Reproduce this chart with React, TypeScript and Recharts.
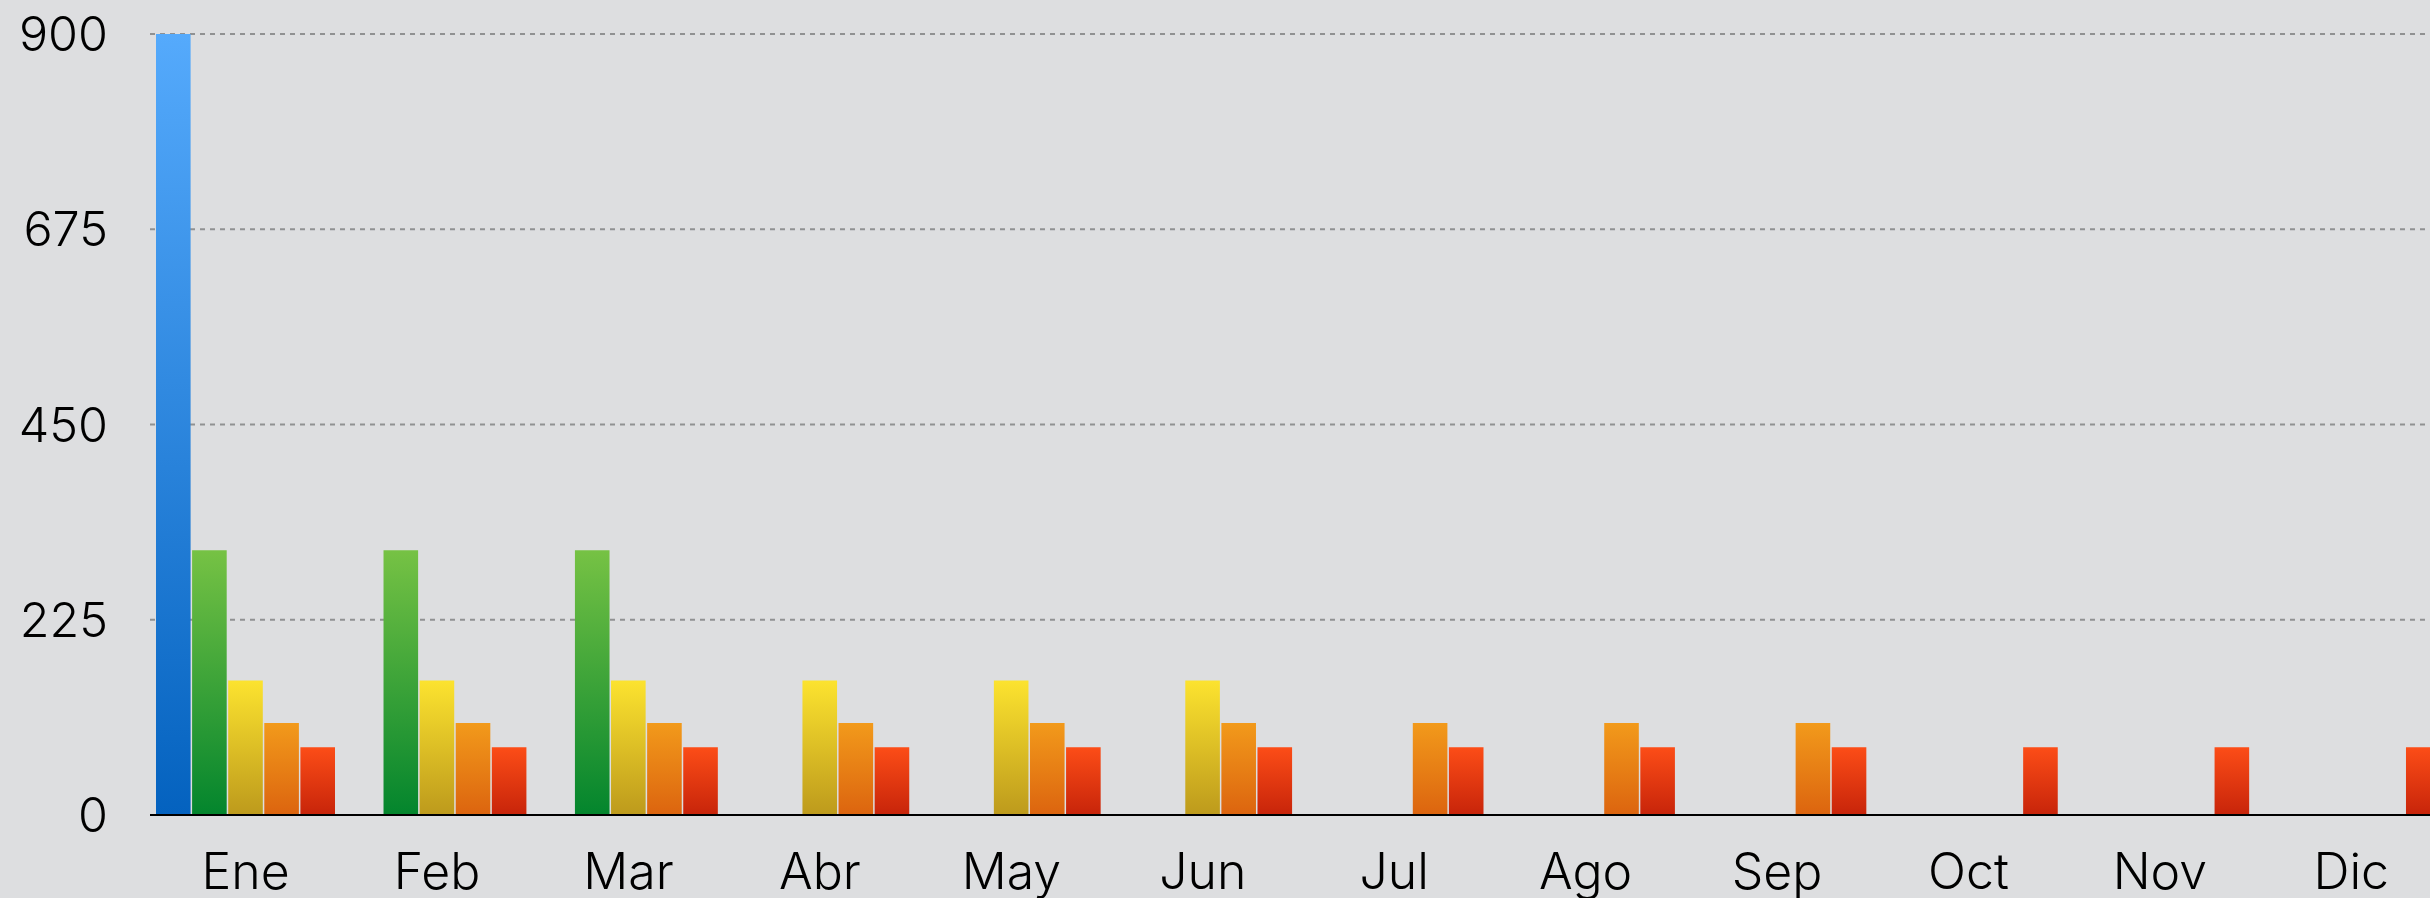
import React from 'react';
import { BarChart, Bar, XAxis, YAxis, CartesianGrid } from 'recharts';

const months = ['Ene', 'Feb', 'Mar', 'Abr', 'May', 'Jun', 'Jul', 'Ago', 'Sep', 'Oct', 'Nov', 'Dic'];
const serieAzul = [900, null, null, null, null, null, null, null, null, null, null, null];
const serieVerde = [305, 305, 305, null, null, null, null, null, null, null, null, null];
const serieAmarilla = [155, 155, 155, 155, 155, 155, null, null, null, null, null, null];
const serieNaranja = [106, 106, 106, 106, 106, 106, 106, 106, 106, null, null, null];
const serieRoja = [78, 78, 78, 78, 78, 78, 78, 78, 78, 78, 78, 78];
const yTicks = [0, 225, 450, 675, 900];

const data = months.map((m, i) => ({
  mes: m,
  azul: serieAzul[i],
  verde: serieVerde[i],
  amarilla: serieAmarilla[i],
  naranja: serieNaranja[i],
  roja: serieRoja[i],
}));

const series = [
  { key: 'azul', top: '#55aafc', bottom: '#0462bf' },
  { key: 'verde', top: '#76c244', bottom: '#03852d' },
  { key: 'amarilla', top: '#fce32f', bottom: '#bd9a1c' },
  { key: 'naranja', top: '#f29a1b', bottom: '#dc640f' },
  { key: 'roja', top: '#fc4d17', bottom: '#c7240a' },
];

const FONT = "Inter, 'Helvetica Neue', Arial, sans-serif";

export default function App() {
  return (
    <div
      style={{
        position: 'fixed',
        left: 0,
        top: 0,
        width: 2430,
        height: 898,
        overflow: 'hidden',
        background: '#dddee0',
      }}
    >
      <BarChart
        width={2447}
        height={898}
        data={data}
        margin={{ top: 34, right: 0, bottom: 0, left: 0 }}
        barGap={1.5}
      >
        <defs>
          {series.map((s) => (
            <linearGradient key={s.key} id={`g-${s.key}`} x1="0" y1="0" x2="0" y2="1">
              <stop offset="0%" stopColor={s.top} />
              <stop offset="100%" stopColor={s.bottom} />
            </linearGradient>
          ))}
        </defs>
        <CartesianGrid
          vertical={false}
          stroke="#909192"
          strokeWidth={2}
          strokeDasharray="5 5"
        />
        <XAxis
          dataKey="mes"
          interval={0}
          tickLine={false}
          axisLine={{ stroke: '#000', strokeWidth: 2 }}
          tickSize={0}
          tickMargin={38}
          height={83}
          tick={{ fill: '#000', fontSize: 50, fontFamily: FONT, fontWeight: 300 }}
        />
        <YAxis
          domain={[0, 900]}
          ticks={yTicks}
          width={150}
          tickLine={false}
          axisLine={false}
          tickSize={0}
          tickMargin={42}
          tick={{ fill: '#000', fontSize: 48.5, fontFamily: FONT, fontWeight: 300 }}
        />
        {series.map((s) => (
          <Bar
            key={s.key}
            dataKey={s.key}
            fill={`url(#g-${s.key})`}
            barSize={34.6}
            isAnimationActive={false}
          />
        ))}
      </BarChart>
    </div>
  );
}
